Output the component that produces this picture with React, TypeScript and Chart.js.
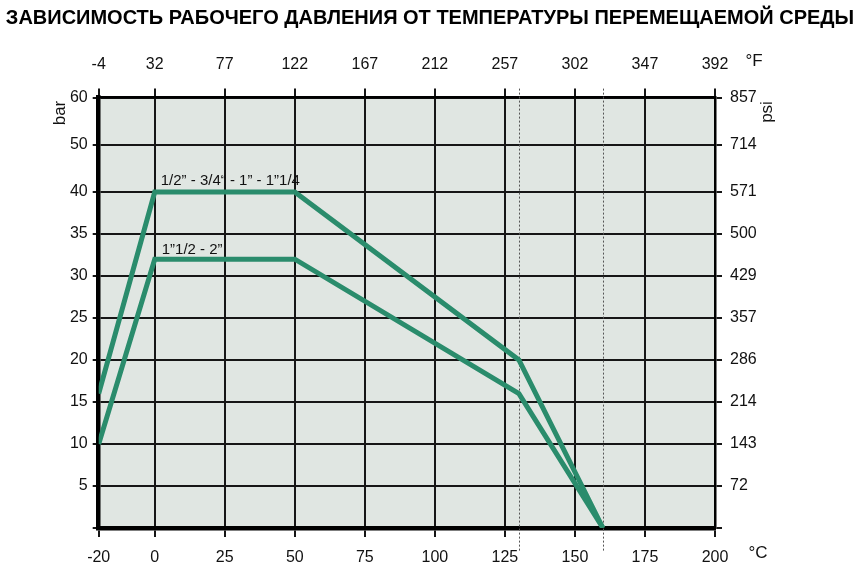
import React, { useEffect, useRef } from 'react';
import { Chart, LinearScale, registerables } from 'chart.js';

const TITLE = 'ЗАВИСИМОСТЬ РАБОЧЕГО ДАВЛЕНИЯ ОТ ТЕМПЕРАТУРЫ ПЕРЕМЕЩАЕМОЙ СРЕДЫ';
const tempC = [-20, 0, 50, 130, 160];
const pressureSmall = [16, 40, 40, 20, 0];
const pressureLarge = [10, 32, 32, 16, 0];
const seriesLabels = ['1/2” - 3/4“ - 1” - 1”1/4', '1”1/2 - 2”'];
const tempTicksC = [-20, 0, 25, 50, 75, 100, 125, 150, 175, 200];
const tempTicksF = ['-4', '32', '77', '122', '167', '212', '257', '302', '347', '392'];
const barTicks = [0, 5, 10, 15, 20, 25, 30, 35, 40, 50, 60];
const barTickLabels = ['', '5', '10', '15', '20', '25', '30', '35', '40', '50', '60'];
const psiTickLabels = ['', '72', '143', '214', '286', '357', '429', '500', '571', '714', '857'];
const limitTemps = [130, 160];

const BREAK_VALUE = 40;
const BREAK_FRACTION = 0.7807;

const NARROW = "'Liberation Sans Narrow', 'Arial Narrow', 'Liberation Sans', sans-serif";
const LINE_COLOR = '#2a8c6c';
const GRID_COLOR = '#161616';
const PLOT_BG = '#e0e6e2';

class BrokenScale extends LinearScale {
  static id = 'broken';
  static defaults = {};
  getPixelForValue(value: number) {
    const min = (this as any).min;
    const max = (this as any).max;
    let d: number;
    if (value <= BREAK_VALUE) d = ((value - min) / (BREAK_VALUE - min)) * BREAK_FRACTION;
    else d = BREAK_FRACTION + ((value - BREAK_VALUE) / (max - BREAK_VALUE)) * (1 - BREAK_FRACTION);
    return (this as any).getPixelForDecimal(d);
  }
  getValueForPixel(pixel: number) {
    const min = (this as any).min;
    const max = (this as any).max;
    const d = (this as any).getDecimalForPixel(pixel);
    if (d <= BREAK_FRACTION) return min + (d / BREAK_FRACTION) * (BREAK_VALUE - min);
    return BREAK_VALUE + ((d - BREAK_FRACTION) / (1 - BREAK_FRACTION)) * (max - BREAK_VALUE);
  }
}

const tickFont = { family: NARROW, size: 16 };

const decorPlugin = {
  id: 'decor',
  beforeDraw(chart: any) {
    const { ctx, chartArea } = chart;
    ctx.save();
    ctx.fillStyle = '#ffffff';
    ctx.fillRect(0, 0, chart.width, chart.height);
    ctx.fillStyle = PLOT_BG;
    ctx.fillRect(chartArea.left, chartArea.top, chartArea.right - chartArea.left, chartArea.bottom - chartArea.top);
    ctx.restore();
  },
  beforeDatasetsDraw(chart: any) {
    const { ctx, chartArea } = chart;
    const xs = chart.scales.x;
    ctx.save();
    ctx.strokeStyle = '#555555';
    ctx.lineWidth = 1;
    ctx.setLineDash([2, 2]);
    limitTemps.forEach((t) => {
      const px = Math.round(xs.getPixelForValue(t)) + 0.5;
      ctx.beginPath();
      ctx.moveTo(px, chartArea.top - 9);
      ctx.lineTo(px, chartArea.bottom + 24);
      ctx.stroke();
    });
    ctx.restore();
  },
  afterDraw(chart: any) {
    const { ctx } = chart;
    const xs = chart.scales.x;
    const ys = chart.scales.y;
    ctx.save();
    // title
    ctx.fillStyle = '#000';
    ctx.font = "bold 20px 'Liberation Sans', Arial, sans-serif";
    ctx.textAlign = 'center';
    ctx.textBaseline = 'middle';
    ctx.fillText(TITLE, 430, 18);
    // unit labels
    ctx.font = `17px ${NARROW}`;
    ctx.fillStyle = '#111';
    ctx.fillText('°F', 754, 61);
    ctx.fillText('°C', 758, 553);
    ctx.save();
    ctx.translate(60, 113);
    ctx.rotate(-Math.PI / 2);
    ctx.fillText('bar', 0, 0);
    ctx.restore();
    ctx.save();
    ctx.translate(767, 112);
    ctx.rotate(-Math.PI / 2);
    ctx.fillText('psi', 0, 0);
    ctx.restore();
    // series labels
    ctx.font = `15px ${NARROW}`;
    ctx.textAlign = 'left';
    ctx.textBaseline = 'alphabetic';
    ctx.fillText(seriesLabels[0], xs.getPixelForValue(tempC[1]) + 6, ys.getPixelForValue(pressureSmall[1]) - 7);
    ctx.fillText(seriesLabels[1], xs.getPixelForValue(tempC[1]) + 7, ys.getPixelForValue(pressureLarge[1]) - 5);
    ctx.restore();
  },
};

export default function App() {
  const ref = useRef<HTMLCanvasElement>(null);
  useEffect(() => {
    Chart.register(...registerables, BrokenScale as any);
    const cTicks = (scale: any) => {
      scale.ticks = tempTicksC.map((v) => ({ value: v }));
    };
    const bTicks = (scale: any) => {
      scale.ticks = barTicks.map((v) => ({ value: v }));
    };
    const chart = new Chart(ref.current as HTMLCanvasElement, {
      type: 'line',
      data: {
        datasets: [
          {
            label: seriesLabels[0],
            data: tempC.map((x, i) => ({ x, y: pressureSmall[i] })),
            borderColor: LINE_COLOR,
            borderWidth: 5,
            pointRadius: 0,
            tension: 0,
            borderJoinStyle: 'miter',
            xAxisID: 'x',
            yAxisID: 'y',
          },
          {
            label: seriesLabels[1],
            data: tempC.map((x, i) => ({ x, y: pressureLarge[i] })),
            borderColor: LINE_COLOR,
            borderWidth: 5,
            pointRadius: 0,
            tension: 0,
            borderJoinStyle: 'miter',
            xAxisID: 'x',
            yAxisID: 'y',
          },
        ],
      },
      options: {
        responsive: false,
        animation: false,
        devicePixelRatio: 1,
        layout: { padding: 0 },
        plugins: { legend: { display: false }, tooltip: { enabled: false }, title: { display: false } },
        scales: {
          x: {
            type: 'linear',
            position: 'bottom',
            min: -20,
            max: 200,
            afterBuildTicks: cTicks,
            afterFit: (s: any) => { s.height = 43; },
            grid: { color: GRID_COLOR, lineWidth: 2, tickLength: 9, drawTicks: true },
            border: { color: '#000', width: 4.5 },
            ticks: { autoSkip: false, maxRotation: 0, padding: 11, color: '#111', font: tickFont, callback: (_v: any, i: number) => String(tempTicksC[i]) },
          },
          x2: {
            type: 'linear',
            position: 'top',
            min: -20,
            max: 200,
            afterBuildTicks: cTicks,
            afterFit: (s: any) => { s.height = 97.6; },
            grid: { color: GRID_COLOR, lineWidth: 2, tickLength: 9, drawOnChartArea: false },
            border: { color: '#000', width: 2.5 },
            ticks: { autoSkip: false, maxRotation: 0, padding: 14, color: '#111', font: tickFont, callback: (_v: any, i: number) => tempTicksF[i] },
          },
          y: {
            type: 'broken' as any,
            position: 'left',
            min: 0,
            max: 60,
            afterBuildTicks: bTicks,
            afterFit: (s: any) => { s.width = 98.7; },
            grid: { color: GRID_COLOR, lineWidth: 2, tickLength: 6 },
            border: { color: '#000', width: 4.5 },
            ticks: { autoSkip: false, padding: 5, color: '#111', font: tickFont, callback: (_v: any, i: number) => barTickLabels[i] },
          },
          y2: {
            type: 'broken' as any,
            position: 'right',
            min: 0,
            max: 60,
            afterBuildTicks: bTicks,
            afterFit: (s: any) => { s.width = 150; },
            grid: { color: GRID_COLOR, lineWidth: 2, tickLength: 7, drawOnChartArea: false },
            border: { color: '#000', width: 2.5 },
            ticks: { autoSkip: false, padding: 8, color: '#111', font: tickFont, callback: (_v: any, i: number) => psiTickLabels[i] },
          },
        } as any,
      },
      plugins: [decorPlugin],
    } as any);
    return () => chart.destroy();
  }, []);
  return (
    <div style={{ position: 'absolute', left: 0, top: 0, width: 865, height: 571 }}>
      <canvas ref={ref} width={865} height={571} style={{ display: 'block', width: 865, height: 571 }} />
    </div>
  );
}
